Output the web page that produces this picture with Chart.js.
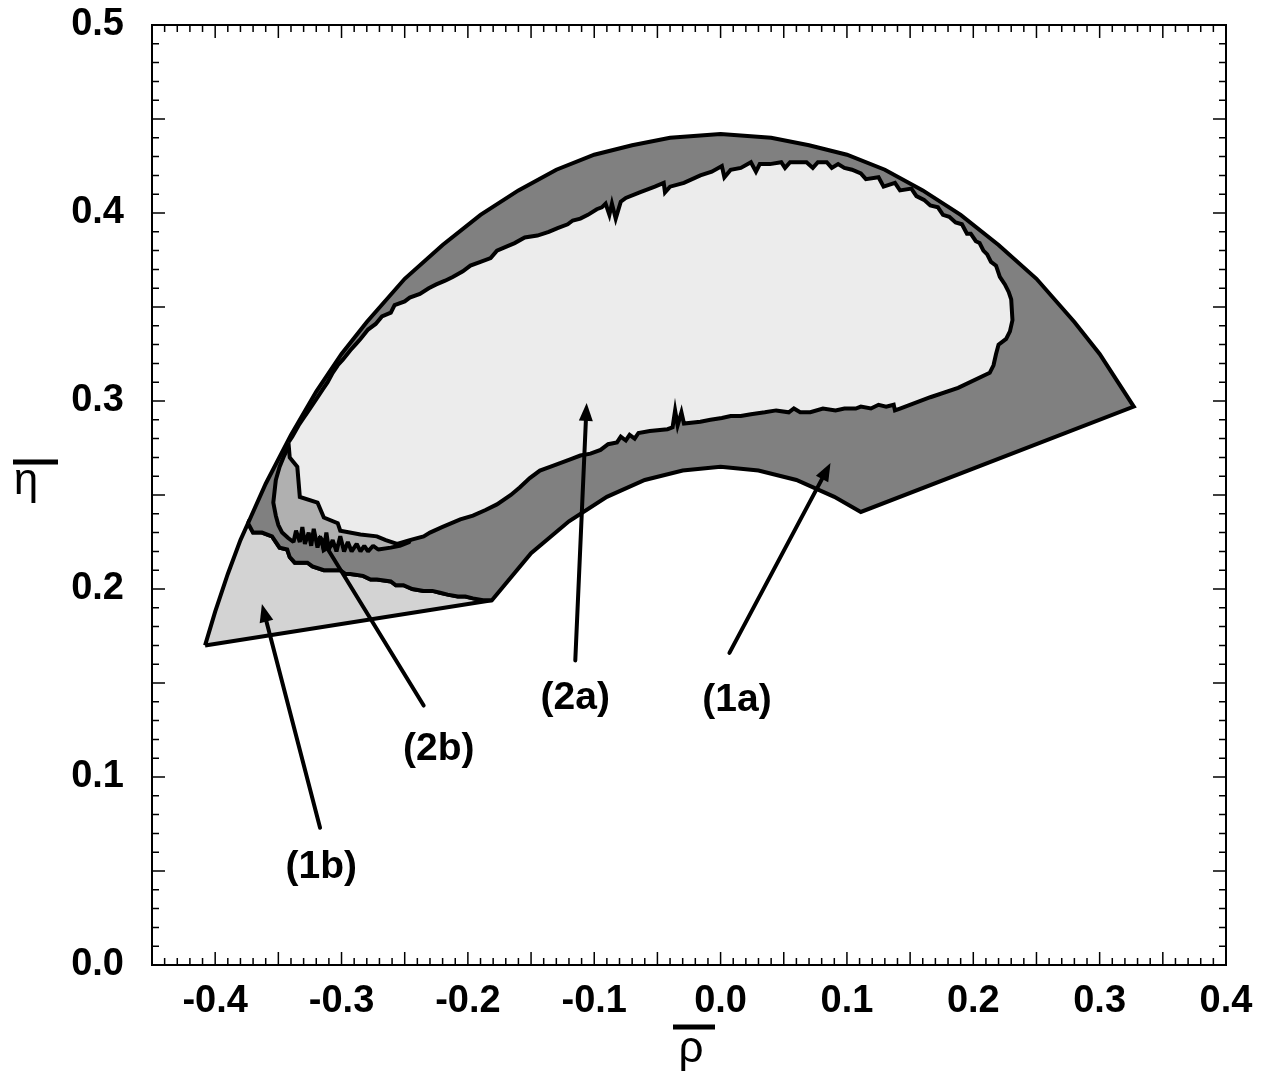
<!DOCTYPE html>
<html>
<head>
<meta charset="utf-8">
<script src="https://cdn.jsdelivr.net/npm/chart.js@4.4.1/dist/chart.umd.min.js"></script>
<style>
  html, body { margin: 0; padding: 0; background: #fff; }
  #wrap { width: 1265px; height: 1074px; }
</style>
</head>
<body>
<div id="wrap"><canvas id="myChart"></canvas></div>
<script>
// outlines, as [rho, eta] pairs

// outer arc, from the lower left tip to the right tip
const outerArc = [
  [-0.408, 0.170], [-0.400, 0.188], [-0.390, 0.208], [-0.380, 0.226], [-0.374, 0.235],
  [-0.360, 0.256], [-0.340, 0.282], [-0.320, 0.305], [-0.300, 0.325], [-0.280, 0.342],
  [-0.250, 0.365], [-0.220, 0.383], [-0.190, 0.399], [-0.160, 0.412], [-0.130, 0.423],
  [-0.100, 0.431], [-0.070, 0.436], [-0.040, 0.440], [0.000, 0.442], [0.040, 0.440],
  [0.070, 0.436], [0.100, 0.431], [0.130, 0.423], [0.160, 0.412], [0.190, 0.399],
  [0.220, 0.383], [0.250, 0.365], [0.280, 0.342], [0.300, 0.325], [0.327, 0.297],
];
const arcJoin = 4; // where the (1a)/(1b) edge leaves the outer arc

// inner arc, right to left
const innerArc = [
  [0.111, 0.241], [0.090, 0.249], [0.060, 0.258], [0.030, 0.263], [0.000, 0.265],
  [-0.030, 0.263], [-0.060, 0.258], [-0.090, 0.249], [-0.120, 0.236], [-0.150, 0.219],
  [-0.181, 0.194],
];

// jagged edge between (1a) and (1b)
const edge1b = [
  [-0.374, 0.235], [-0.370, 0.230], [-0.363, 0.230], [-0.355, 0.228], [-0.349, 0.222],
  [-0.343, 0.221], [-0.341, 0.217], [-0.337, 0.214], [-0.327, 0.214], [-0.323, 0.212],
  [-0.314, 0.210], [-0.301, 0.210], [-0.297, 0.208], [-0.293, 0.208], [-0.283, 0.207],
  [-0.277, 0.205], [-0.272, 0.205], [-0.261, 0.204], [-0.257, 0.202], [-0.251, 0.202],
  [-0.244, 0.200], [-0.235, 0.199], [-0.228, 0.199], [-0.222, 0.198], [-0.216, 0.197],
  [-0.208, 0.196], [-0.202, 0.196], [-0.196, 0.195], [-0.188, 0.194], [-0.181, 0.194],
];

// region (2a)
const region2a = [
  [-0.342, 0.278], [-0.339, 0.281], [-0.334, 0.287], [-0.330, 0.291], [-0.327, 0.294],
  [-0.323, 0.298], [-0.318, 0.303], [-0.315, 0.306], [-0.311, 0.310], [-0.307, 0.315],
  [-0.303, 0.319], [-0.299, 0.322], [-0.293, 0.327], [-0.289, 0.330], [-0.285, 0.333],
  [-0.279, 0.338], [-0.273, 0.341], [-0.268, 0.345], [-0.261, 0.347], [-0.258, 0.351],
  [-0.250, 0.353], [-0.246, 0.355], [-0.238, 0.357], [-0.231, 0.360], [-0.225, 0.362],
  [-0.218, 0.364], [-0.212, 0.366], [-0.204, 0.369], [-0.198, 0.372], [-0.190, 0.374],
  [-0.182, 0.376], [-0.177, 0.380], [-0.170, 0.382], [-0.163, 0.384], [-0.155, 0.387],
  [-0.145, 0.388], [-0.136, 0.390], [-0.129, 0.392], [-0.121, 0.394], [-0.117, 0.396],
  [-0.111, 0.397], [-0.105, 0.399], [-0.098, 0.402], [-0.094, 0.403], [-0.091, 0.405],
  [-0.088, 0.399], [-0.086, 0.405], [-0.083, 0.397], [-0.079, 0.406], [-0.075, 0.408],
  [-0.064, 0.411], [-0.052, 0.414], [-0.045, 0.416], [-0.044, 0.411], [-0.040, 0.414],
  [-0.029, 0.416], [-0.016, 0.420], [-0.007, 0.422], [0.001, 0.425], [0.003, 0.419],
  [0.008, 0.423], [0.016, 0.424], [0.024, 0.427], [0.028, 0.422], [0.031, 0.426],
  [0.039, 0.426], [0.048, 0.427], [0.051, 0.424], [0.055, 0.427], [0.068, 0.427],
  [0.073, 0.424], [0.077, 0.427], [0.084, 0.427], [0.088, 0.424], [0.093, 0.426],
  [0.098, 0.424], [0.104, 0.423], [0.111, 0.421], [0.115, 0.418], [0.125, 0.419],
  [0.129, 0.414], [0.138, 0.416], [0.142, 0.412], [0.151, 0.413], [0.155, 0.409],
  [0.161, 0.407], [0.166, 0.404], [0.172, 0.403], [0.176, 0.399], [0.181, 0.398],
  [0.186, 0.395], [0.191, 0.394], [0.195, 0.389], [0.198, 0.389], [0.202, 0.385],
  [0.205, 0.384], [0.208, 0.380], [0.211, 0.378], [0.214, 0.374], [0.218, 0.372],
  [0.221, 0.366], [0.225, 0.362], [0.228, 0.358], [0.230, 0.354], [0.231, 0.343],
  [0.229, 0.337], [0.226, 0.333], [0.220, 0.330], [0.218, 0.325], [0.216, 0.319],
  [0.213, 0.315], [0.188, 0.307], [0.166, 0.302], [0.142, 0.296], [0.138, 0.295],
  [0.137, 0.298], [0.131, 0.297], [0.125, 0.298], [0.119, 0.296], [0.111, 0.297],
  [0.107, 0.296], [0.098, 0.296], [0.091, 0.295], [0.081, 0.296], [0.071, 0.294],
  [0.063, 0.294], [0.058, 0.296], [0.054, 0.294], [0.044, 0.295], [0.035, 0.294],
  [0.024, 0.293], [0.016, 0.292], [0.008, 0.292], [0.001, 0.291], [-0.008, 0.290],
  [-0.016, 0.289], [-0.029, 0.288], [-0.031, 0.294], [-0.034, 0.287], [-0.036, 0.295],
  [-0.038, 0.286], [-0.042, 0.285], [-0.056, 0.284], [-0.065, 0.283], [-0.068, 0.280],
  [-0.072, 0.282], [-0.075, 0.279], [-0.079, 0.281], [-0.082, 0.278], [-0.089, 0.277],
  [-0.095, 0.274], [-0.103, 0.272], [-0.111, 0.271], [-0.119, 0.269], [-0.127, 0.267],
  [-0.135, 0.265], [-0.143, 0.263], [-0.151, 0.259], [-0.159, 0.254], [-0.166, 0.250],
  [-0.177, 0.245], [-0.186, 0.242], [-0.196, 0.239], [-0.206, 0.237], [-0.220, 0.233],
  [-0.230, 0.230], [-0.235, 0.228], [-0.246, 0.226], [-0.256, 0.224], [-0.265, 0.226],
  [-0.272, 0.228], [-0.285, 0.229], [-0.301, 0.231], [-0.303, 0.235], [-0.314, 0.238],
  [-0.319, 0.246], [-0.333, 0.249], [-0.335, 0.265], [-0.341, 0.270],
];

// region (2b), the thin band left of (2a); its last points sit under (2a)
const region2b = [
  [-0.341, 0.277], [-0.346, 0.270], [-0.349, 0.265], [-0.352, 0.258], [-0.353, 0.252],
  [-0.354, 0.246], [-0.352, 0.239], [-0.350, 0.234], [-0.347, 0.230], [-0.342, 0.227],
  [-0.338, 0.225], [-0.336, 0.231], [-0.333, 0.225], [-0.331, 0.233], [-0.329, 0.224],
  [-0.326, 0.230], [-0.324, 0.223], [-0.322, 0.232], [-0.319, 0.222], [-0.317, 0.228],
  [-0.314, 0.221], [-0.312, 0.230], [-0.310, 0.221], [-0.307, 0.226], [-0.304, 0.220],
  [-0.301, 0.228], [-0.298, 0.220], [-0.295, 0.225], [-0.292, 0.220], [-0.288, 0.224],
  [-0.285, 0.220], [-0.282, 0.223], [-0.279, 0.220], [-0.275, 0.223], [-0.271, 0.221],
  [-0.261, 0.222], [-0.254, 0.223], [-0.246, 0.225], [-0.254, 0.237], [-0.301, 0.242],
  [-0.325, 0.263], [-0.334, 0.277],
];

const labelText = ["(1a)", "(2a)", "(2b)", "(1b)"];
const labelPos = [[0.013, 0.141], [-0.115, 0.142], [-0.223, 0.115], [-0.316, 0.052]];
const arrowFrom = [[0.007, 0.166], [-0.115, 0.162], [-0.235, 0.138], [-0.317, 0.073]];
const arrowTo = [[0.087, 0.267], [-0.106, 0.299], [-0.318, 0.229], [-0.363, 0.192]];

const xTickValues = [-0.4, -0.3, -0.2, -0.1, 0.0, 0.1, 0.2, 0.3, 0.4];
const yTickValues = [0.0, 0.1, 0.2, 0.3, 0.4, 0.5];

// build the closed polygons
const poly1b = outerArc.slice(0, arcJoin + 1).concat(edge1b.slice(1));
const poly1a = outerArc.slice(arcJoin).concat(innerArc, edge1b.slice().reverse().slice(1));

function shape(label, pts, color, order, join) {
  const closed = pts.concat([pts[0]]);
  return {
    label: label,
    data: closed.map((p) => ({ x: p[0], y: p[1] })),
    backgroundColor: color,
    borderColor: "#000",
    borderWidth: 4,
    borderJoinStyle: join || "miter",
    fill: "shape",
    pointRadius: 0,
    tension: 0,
    order: order,
  };
}

const tickFont = { family: '"Liberation Sans", Arial, Helvetica, sans-serif', size: 38, weight: "bold" };

const frameAndNotes = {
  id: "frameAndNotes",
  afterDatasetsDraw(chart) {
    const { ctx, chartArea: a, scales } = chart;
    const x = scales.x;
    const y = scales.y;
    ctx.save();

    // frame
    ctx.strokeStyle = "#000";
    ctx.lineWidth = 2;
    ctx.strokeRect(a.left, a.top, a.right - a.left, a.bottom - a.top);

    // inward ticks on all four sides, minor every 0.01
    ctx.lineWidth = 1.5;
    ctx.beginPath();
    for (let i = 0; i <= 85; i++) {
      const px = x.getPixelForValue(-0.45 + i * 0.01);
      const len = i % 5 === 0 ? 13 : 7;
      ctx.moveTo(px, a.bottom);
      ctx.lineTo(px, a.bottom - len);
      ctx.moveTo(px, a.top);
      ctx.lineTo(px, a.top + len);
    }
    for (let i = 0; i <= 50; i++) {
      const py = y.getPixelForValue(i * 0.01);
      const len = i % 5 === 0 ? 13 : 7;
      ctx.moveTo(a.left, py);
      ctx.lineTo(a.left + len, py);
      ctx.moveTo(a.right, py);
      ctx.lineTo(a.right - len, py);
    }
    ctx.stroke();

    // arrows
    ctx.lineWidth = 4;
    ctx.lineCap = "round";
    ctx.fillStyle = "#000";
    for (let i = 0; i < arrowFrom.length; i++) {
      const x0 = x.getPixelForValue(arrowFrom[i][0]);
      const y0 = y.getPixelForValue(arrowFrom[i][1]);
      const x1 = x.getPixelForValue(arrowTo[i][0]);
      const y1 = y.getPixelForValue(arrowTo[i][1]);
      const ang = Math.atan2(y1 - y0, x1 - x0);
      const hl = 18, hw = 7;
      const bx = x1 - hl * Math.cos(ang);
      const by = y1 - hl * Math.sin(ang);
      ctx.beginPath();
      ctx.moveTo(x0, y0);
      ctx.lineTo(bx, by);
      ctx.stroke();
      ctx.beginPath();
      ctx.moveTo(x1, y1);
      ctx.lineTo(bx + hw * Math.sin(ang), by - hw * Math.cos(ang));
      ctx.lineTo(bx - hw * Math.sin(ang), by + hw * Math.cos(ang));
      ctx.closePath();
      ctx.fill();
    }

    // region labels
    ctx.font = 'bold 39px "Liberation Sans", Arial, Helvetica, sans-serif';
    ctx.textAlign = "center";
    ctx.textBaseline = "middle";
    for (let i = 0; i < labelText.length; i++) {
      ctx.fillText(labelText[i], x.getPixelForValue(labelPos[i][0]), y.getPixelForValue(labelPos[i][1]));
    }

    // axis titles: rho-bar and eta-bar
    const cx = (a.left + a.right) / 2;
    ctx.lineWidth = 5;
    ctx.lineCap = "butt";
    ctx.beginPath();
    ctx.moveTo(cx - 16, a.bottom + 62);
    ctx.lineTo(cx + 26, a.bottom + 62);
    ctx.moveTo(13, 462);
    ctx.lineTo(58, 462);
    ctx.stroke();
    ctx.font = '44px "Liberation Sans", Arial, Helvetica, sans-serif';
    ctx.textAlign = "center";
    ctx.textBaseline = "alphabetic";
    ctx.fillText("ρ", cx + 2, a.bottom + 97);
    ctx.fillText("η", 26, 494);

    ctx.restore();
  },
};

const ctx = document.getElementById("myChart").getContext("2d");

const myChart = new Chart(ctx, {
  type: "line",
  data: {
    datasets: [
      shape("(2a)", region2a, "#ececec", 0),
      shape("(2b)", region2b, "#b0b0b0", 1, "bevel"),
      shape("(1a)", poly1a, "#808080", 2),
      shape("(1b)", poly1b, "#d3d3d3", 3),
    ],
  },
  options: {
    responsive: true,
    maintainAspectRatio: false,
    animation: false,
    devicePixelRatio: 1,
    layout: { padding: { top: 25, right: 39, left: 0, bottom: 0 } },
    plugins: { legend: { display: false }, tooltip: { enabled: false } },
    scales: {
      x: {
        type: "linear",
        min: -0.45,
        max: 0.4,
        grid: { display: false, drawTicks: false },
        border: { display: false },
        afterBuildTicks: (s) => { s.ticks = xTickValues.map((v) => ({ value: v })); },
        afterFit: (s) => {
          s.height = 109;
          s.paddingLeft = 0;
          s.paddingRight = 0;
        },
        ticks: {
          autoSkip: false, maxRotation: 0, padding: 14, color: "#000", font: tickFont,
          callback: (v) => Number(v).toFixed(1),
        },
      },
      y: {
        type: "linear",
        min: 0,
        max: 0.5,
        grid: { display: false, drawTicks: false },
        border: { display: false },
        afterBuildTicks: (s) => { s.ticks = yTickValues.map((v) => ({ value: v })); },
        afterFit: (s) => {
          s.width = 152;
          s.paddingTop = 0;
          s.paddingBottom = 0;
        },
        ticks: {
          autoSkip: false, padding: 28, color: "#000", font: tickFont,
          callback: (v) => Number(v).toFixed(1),
        },
      },
    },
  },
  plugins: [frameAndNotes],
});
</script>
</body>
</html>
